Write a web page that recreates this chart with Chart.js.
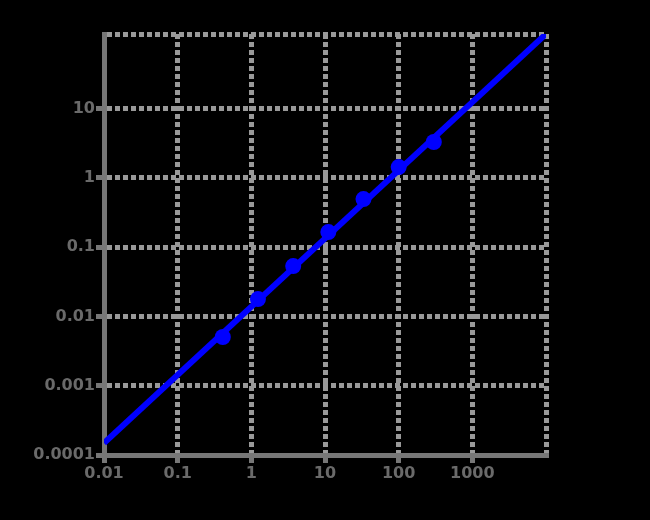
<!DOCTYPE html>
<html lang="en">
<head>
  <meta charset="UTF-8" />
  <title>Log-log fit</title>
  <script src="https://cdn.jsdelivr.net/npm/chart.js"></script>
  <style>
    html, body { margin: 0; padding: 0; background: #000; }
    canvas { display: block; }
  </style>
</head>
<body>
  <canvas id="fitChart" width="650" height="520"></canvas>

  <script>
    // measured points
    const doseX = [0.41, 1.23, 3.7, 11.1, 33.3, 100, 300];
    const responseY = [0.00505, 0.0178, 0.0533, 0.165, 0.494, 1.43, 3.29];

    // fitted line end points
    const fitX = [0.01, 10000];
    const fitY = [0.000149, 119];

    // axis ticks
    const xTicks = [0.01, 0.1, 1, 10, 100, 1000, 10000];
    const xTickLabels = ['0.01', '0.1', '1', '10', '100', '1000', ''];
    const yTicks = [0.0001, 0.001, 0.01, 0.1, 1, 10, 119];
    const yTickLabels = ['0.0001', '0.001', '0.01', '0.1', '1', '10', ''];

    const gridGray = '#999999';
    const axisGray = '#777777';
    const labelGray = '#6a6a6a';
    const blue = '#0000ff';

    const tickFont = { family: 'DejaVu Sans', size: 16, weight: 'bold' };

    // no tick stub on the unlabelled edge tick
    const stubColor = (c) => (c.index === 6 ? 'rgba(0,0,0,0)' : axisGray);

    const ctx = document.getElementById('fitChart').getContext('2d');
    new Chart(ctx, {
      type: 'scatter',
      data: {
        datasets: [
          {
            label: 'fit',
            data: fitX.map((x, i) => ({ x: x, y: fitY[i] })),
            showLine: true,
            borderColor: blue,
            borderWidth: 6,
            pointRadius: 0,
            order: 2
          },
          {
            label: 'data',
            data: doseX.map((x, i) => ({ x: x, y: responseY[i] })),
            backgroundColor: blue,
            borderColor: blue,
            pointRadius: 8,
            borderWidth: 0,
            order: 1
          }
        ]
      },
      options: {
        responsive: false,
        animation: false,
        layout: { padding: { top: 34, right: 104, bottom: 0, left: 0 } },
        plugins: { legend: { display: false }, tooltip: { enabled: false } },
        scales: {
          x: {
            type: 'logarithmic',
            min: 0.01,
            max: 10000,
            afterBuildTicks: (scale) => { scale.ticks = xTicks.map(v => ({ value: v })); },
            afterFit: (scale) => { scale.height = 65; },
            ticks: {
              autoSkip: false,
              maxRotation: 0,
              color: labelGray,
              font: tickFont,
              padding: 1,
              callback: (v) => { const i = xTicks.indexOf(v); return i >= 0 ? xTickLabels[i] : ''; }
            },
            grid: {
              color: gridGray,
              lineWidth: 5,
              tickColor: stubColor,
              tickWidth: 5,
              tickLength: 8,
              tickBorderDash: []
            },
            border: { color: axisGray, width: 5, dash: [5, 3] }
          },
          y: {
            type: 'logarithmic',
            min: 0.0001,
            max: 119,
            afterBuildTicks: (scale) => { scale.ticks = yTicks.map(v => ({ value: v })); },
            afterFit: (scale) => { scale.width = 104; },
            ticks: {
              autoSkip: false,
              color: labelGray,
              font: tickFont,
              padding: 1,
              callback: (v) => { const i = yTicks.indexOf(v); return i >= 0 ? yTickLabels[i] : ''; }
            },
            grid: {
              color: gridGray,
              lineWidth: 5,
              tickColor: stubColor,
              tickWidth: 5,
              tickLength: 8,
              tickBorderDash: []
            },
            border: { color: axisGray, width: 5, dash: [5, 3] }
          }
        }
      }
    });
  </script>
</body>
</html>
